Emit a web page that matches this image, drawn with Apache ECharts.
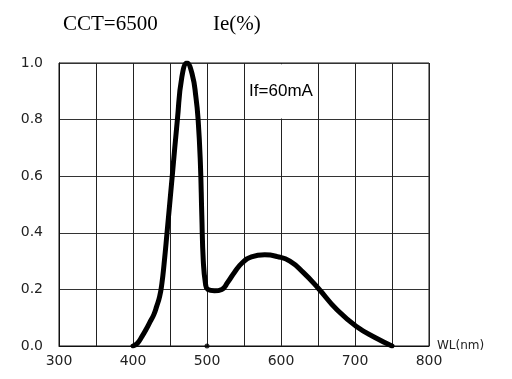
<!DOCTYPE html>
<html>
<head>
<meta charset="utf-8">
<script src="https://cdn.jsdelivr.net/npm/echarts@6/dist/echarts.min.js"></script>
<style>
  html, body {margin: 0; padding: 0; background: #fff;}
</style>
</head>
<body>
<div id="spectrum" style="width: 512px;height: 379px;"></div>
<script>
// wavelength (nm) and relative intensity
const wavelengths = [400, 406, 412, 418, 423, 428, 432, 436, 439, 442, 446, 453, 460, 466, 473, 480, 485, 488, 491, 493, 495, 498, 501,
  510, 520, 528, 537, 548, 560, 578, 595, 612, 630, 650, 676, 703, 727, 750];
const intensity = [0, 0.01, 0.033, 0.06, 0.085, 0.11, 0.14, 0.175, 0.22, 0.29, 0.4, 0.6, 0.8, 0.95, 1.0, 0.96, 0.88, 0.8, 0.65, 0.46, 0.3, 0.22, 0.2,
  0.195, 0.2, 0.225, 0.26, 0.295, 0.315, 0.322, 0.316, 0.30, 0.26, 0.205, 0.127, 0.067, 0.03, 0];
const xTickLabels = [300, 400, 500, 600, 700, 800];
const yTickLabels = [0, 0.2, 0.4, 0.6, 0.8, 1.0];
const markerDot = [[500, 0]];

let chart = echarts.init(document.getElementById('spectrum'));
let option = {
  animation: false,
  title: [
    {
      text: 'CCT=6500', left: 58, top: 9,
      textStyle: {fontFamily: 'Liberation Serif', fontSize: 21, fontWeight: 'normal', color: '#000'}
    },
    {
      text: 'Ie(%)', left: 208, top: 9,
      textStyle: {fontFamily: 'Liberation Serif', fontSize: 21, fontWeight: 'normal', color: '#000'}
    }
  ],
  grid: {
    left: 59, right: 83, top: 63, bottom: 33,
    show: true, borderColor: '#111', borderWidth: 1
  },
  xAxis: {
    type: 'value',
    min: 300, max: 800, interval: 50,
    name: 'WL(nm)',
    nameLocation: 'end',
    nameGap: 8,
    nameTextStyle: {fontFamily: 'DejaVu Sans', fontSize: 12, color: '#222', verticalAlign: 'middle'},
    axisLine: {show: true, lineStyle: {color: '#111', width: 1}},
    axisTick: {show: false},
    splitLine: {show: true, lineStyle: {color: '#222', width: 1}},
    axisLabel: {
      margin: 8,
      fontFamily: 'DejaVu Sans', fontSize: 14, color: '#222',
      formatter: function (v) {
        return xTickLabels.indexOf(v) >= 0 ? String(v) : '';
      }
    }
  },
  yAxis: {
    type: 'value',
    min: 0, max: 1, interval: 0.2,
    axisLine: {show: true, lineStyle: {color: '#111', width: 1}},
    axisTick: {show: false},
    splitLine: {show: true, lineStyle: {color: '#333', width: 1}},
    axisLabel: {
      margin: 16,
      fontFamily: 'DejaVu Sans', fontSize: 14, color: '#222',
      formatter: function (v) {
        return yTickLabels.some(t => Math.abs(t - v) < 1e-6) ? v.toFixed(1) : '';
      }
    }
  },
  series: [
    {
      type: 'line',
      data: wavelengths.map((w, i) => [w, intensity[i]]),
      showSymbol: false,
      smooth: 0.5,
      lineStyle: {color: '#000', width: 5, cap: 'round', join: 'round'},
      markArea: {
        silent: true,
        itemStyle: {color: '#fff', opacity: 1},
        label: {
          show: true, position: 'inside',
          formatter: 'If=60mA',
          fontFamily: 'Liberation Sans', fontSize: 17, color: '#000'
        },
        data: [[{xAxis: 553, yAxis: 0.996}, {xAxis: 647, yAxis: 0.804}]]
      },
      z: 3
    },
    {
      type: 'scatter',
      data: markerDot,
      symbolSize: 5,
      itemStyle: {color: '#000'},
      clip: false
    }
  ]
};
chart.setOption(option);
</script>
</body>
</html>
